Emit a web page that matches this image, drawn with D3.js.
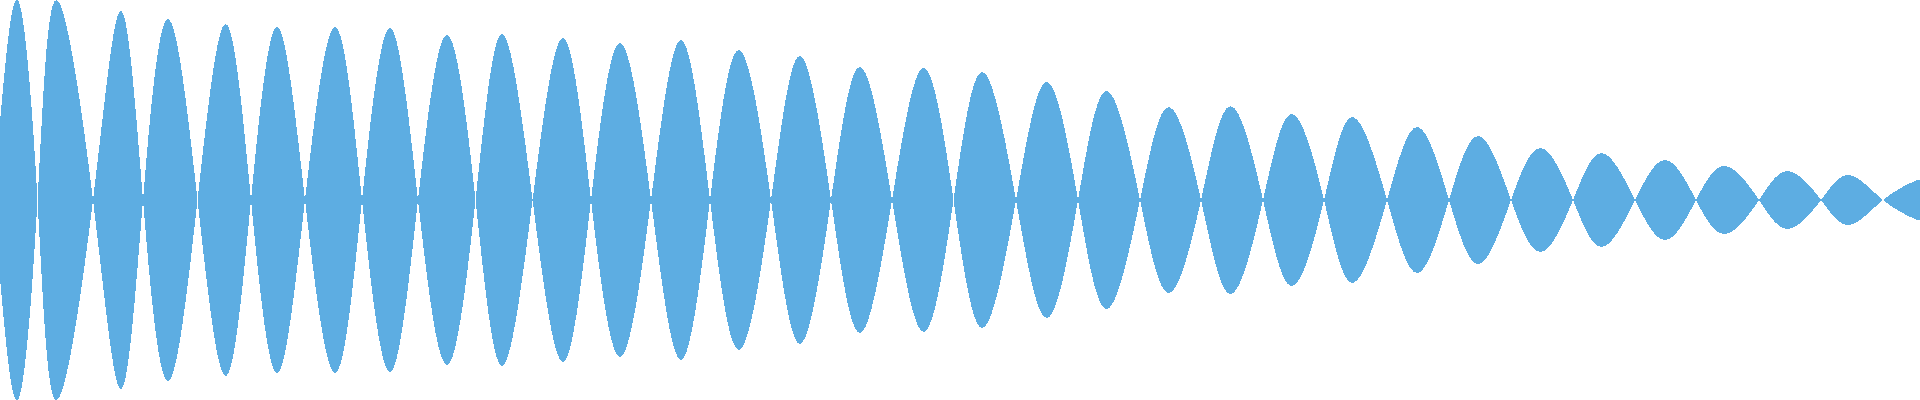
<!DOCTYPE html>
<html>
<head>
<meta charset="utf-8">
<script src="https://cdnjs.cloudflare.com/ajax/libs/d3/7.8.5/d3.min.js"></script>
<style>
    html, body { margin: 0; padding: 0; background: #fff; overflow: hidden; }
</style>
</head>
<body>
<div id="wave"></div>
<script>
// envelope of the signal (x in samples, amplitude normalised to 1)
var startAmp = 0.39;
var endAmp = 0.095;

// zero crossings
var zeroX = [37.5, 93, 143, 197.5, 251, 305, 362, 418, 475.5, 532.6,
             591, 651, 710, 771, 831, 892, 953.5, 1016, 1078, 1140,
             1201, 1263, 1324, 1387, 1449, 1511, 1573, 1635, 1696, 1759,
             1821, 1883];

// crest of each lobe
var peakX = [18.4, 56.3, 121, 168, 225.7, 277, 335, 390, 447, 502,
             563, 620, 681, 739, 800, 860, 923.7, 982.4, 1047, 1107,
             1169, 1230.6, 1292, 1352.7, 1417.6, 1478.8, 1541, 1602, 1665.7, 1725,
             1788, 1849, 1915];

var peakAmp = [0.995, 1.0, 0.945, 0.905, 0.88, 0.865, 0.865, 0.86, 0.825, 0.83,
               0.81, 0.785, 0.80, 0.75, 0.72, 0.665, 0.66, 0.64, 0.59, 0.545,
               0.465, 0.47, 0.43, 0.415, 0.365, 0.32, 0.26, 0.235, 0.20, 0.17,
               0.145, 0.125, 0.095];

function init() {
    var w = 1920;
    var h = 400;

    //build the point list: crest, zero, crest, zero ... with alternating sign
    var data = [{x: 0, v: startAmp}];
    for (var i = 0; i < peakX.length; i++) {
        var sign = (i % 2 == 0) ? 1 : -1;
        data.push({x: peakX[i], v: sign * peakAmp[i]});
        if (i < zeroX.length) {
            data.push({x: zeroX[i], v: 0});
        }
    }
    data.push({x: 1920, v: (peakX.length % 2 == 1 ? 1 : -1) * endAmp});

    var x = d3.scaleLinear()
                .domain([0, 1920])
                .range([0, w]);

    var y = d3.scaleLinear()
                .domain([-1, 1])
                .range([h, 0]);

    var area = d3.area()
                .curve(d3.curveNatural)
                .x(function(d){ return x(d.x); })
                .y0(function(d){ return y(-d.v); })
                .y1(function(d){ return y(d.v); });

    var svg = d3.select("#wave")//set up the svg
                .append("svg")
                .attr("width", w)
                .attr("height", h)
                .style("display", "block");

    svg.append("path")
        .datum(data)
        .attr("d", area)
        .attr("fill", "#5dade2")
        .attr("shape-rendering", "crispEdges");
}

window.onload = init;
</script>
</body>
</html>
